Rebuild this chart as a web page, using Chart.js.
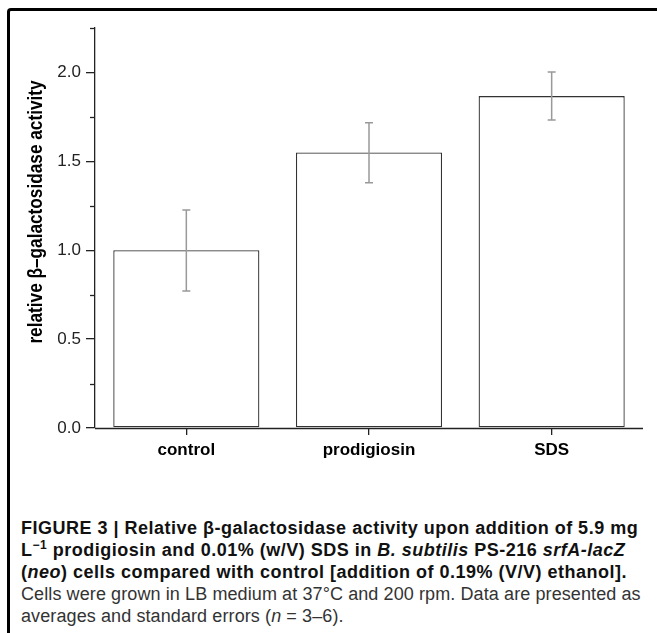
<!DOCTYPE html>
<html>
<head>
<meta charset="utf-8">
<script src="https://cdn.jsdelivr.net/npm/chart.js@4"></script>
<style>
  body { margin: 0; background: #fff; }
  #frame { position: relative; width: 657px; height: 633px; overflow: hidden; }
  #box { position: absolute; left: 7px; top: 8px; width: 700px; height: 700px;
         border-left: 3px solid #000; border-top: 3px solid #000; border-top-left-radius: 4px; }
  #myBarChart { position: absolute; left: 0; top: 0; }
  #caption { position: absolute; left: 21px; top: 517px; font-family: "Liberation Sans", Arial, sans-serif;
             font-size: 18px; line-height: 22px; color: #111; white-space: nowrap; }
  #caption b { font-weight: bold; letter-spacing: 0.5px; }
  #caption .note { color: #333; letter-spacing: 0.1px; }
</style>
</head>
<body>
<div id="frame">
  <div id="box"></div>
  <canvas id="myBarChart" width="657" height="480"></canvas>
  <div id="caption">
    <b>FIGURE 3 | Relative β-galactosidase activity upon addition of 5.9 mg<br>
    L<sup style="font-size:12px;line-height:0">−1</sup> prodigiosin and 0.01% (w/V) SDS in <i>B. subtilis</i> PS-216 <i>srfA-lacZ</i><br>
    (<i>neo</i>) cells compared with control [addition of 0.19% (V/V) ethanol].</b><br>
    <span class="note">Cells were grown in LB medium at 37°C and 200 rpm. Data are presented as<br>
    averages and standard errors (<i>n</i> = 3–6).</span>
  </div>
</div>
<script>
// Bar chart with error bars
const categories = ['control', 'prodigiosin', 'SDS'];
const activity = [1.0, 1.55, 1.867];
const errUpper = [1.226, 1.717, 2.003];
const errLower = [0.771, 1.38, 1.732];
const minorTicks = [0.25, 0.75, 1.25, 1.75, 2.25];
const yTitle = 'relative β–galactosidase activity';

const extras = {
    id: 'extras',
    afterDatasetsDraw(chart) {
        const ctx = chart.ctx;
        const x = chart.scales.x, y = chart.scales.y;
        const area = chart.chartArea;
        ctx.save();
        // error bars
        ctx.strokeStyle = '#999';
        ctx.lineWidth = 1.5;
        activity.forEach(function (v, i) {
            const cx = x.getPixelForValue(i);
            const top = y.getPixelForValue(errUpper[i]);
            const bot = y.getPixelForValue(errLower[i]);
            ctx.beginPath();
            ctx.moveTo(cx, top); ctx.lineTo(cx, bot);
            ctx.moveTo(cx - 4, top); ctx.lineTo(cx + 4, top);
            ctx.moveTo(cx - 4, bot); ctx.lineTo(cx + 4, bot);
            ctx.stroke();
        });
        // x axis line
        ctx.strokeStyle = '#222';
        ctx.lineWidth = 1.3;
        const by = Math.round(area.bottom) + 0.5;
        ctx.beginPath();
        ctx.moveTo(area.left, by); ctx.lineTo(area.right, by);
        ctx.stroke();
        // minor ticks
        minorTicks.forEach(function (t) {
            const py = Math.round(y.getPixelForValue(t)) + 0.5;
            ctx.beginPath();
            ctx.moveTo(y.right - 5, py); ctx.lineTo(y.right, py);
            ctx.stroke();
        });
        // y title
        ctx.fillStyle = '#000';
        ctx.font = 'bold 21px "Liberation Sans", Arial, sans-serif';
        ctx.textAlign = 'center';
        ctx.textBaseline = 'middle';
        ctx.translate(36, (area.top + area.bottom) / 2 - 16);
        ctx.rotate(-Math.PI / 2);
        ctx.scale(0.82, 1);
        ctx.fillText(yTitle, 0, 0);
        ctx.restore();
    }
};

document.addEventListener('DOMContentLoaded', function () {
    const ctx = document.getElementById('myBarChart').getContext('2d');
    const myBarChart = new Chart(ctx, {
        type: 'bar',
        data: {
            labels: categories,
            datasets: [{
                data: activity,
                backgroundColor: '#fff',
                borderColor: '#333',
                borderWidth: 1.3,
                borderSkipped: false,
                categoryPercentage: 0.8,
                barPercentage: 1.0
            }]
        },
        options: {
            responsive: false,
            animation: false,
            layout: { padding: { top: 28, right: 14, left: 0, bottom: 0 } },
            scales: {
                x: {
                    afterFit: function (s) { s.height = 52; },
                    grid: { offset: false, drawOnChartArea: false, tickLength: 7, color: '#222', lineWidth: 1.3 },
                    border: { display: false },
                    ticks: {
                        color: '#000',
                        padding: 5,
                        font: { family: '"Liberation Sans", Arial, sans-serif', size: 17, weight: 'bold' }
                    }
                },
                y: {
                    min: 0,
                    max: 2.25,
                    afterFit: function (s) { s.width = 95; },
                    afterBuildTicks: function (s) {
                        s.ticks = [0, 0.5, 1, 1.5, 2].map(function (v) { return { value: v }; });
                    },
                    grid: { drawOnChartArea: false, tickLength: 9, color: '#222', lineWidth: 1.3 },
                    border: { color: '#222', width: 1.3 },
                    ticks: {
                        color: '#222',
                        padding: 5,
                        font: { family: '"Liberation Sans", Arial, sans-serif', size: 17 },
                        callback: function (v) { return v.toFixed(1); }
                    }
                }
            },
            plugins: {
                legend: { display: false },
                tooltip: { enabled: false }
            }
        },
        plugins: [extras]
    });
});
</script>
</body>
</html>
